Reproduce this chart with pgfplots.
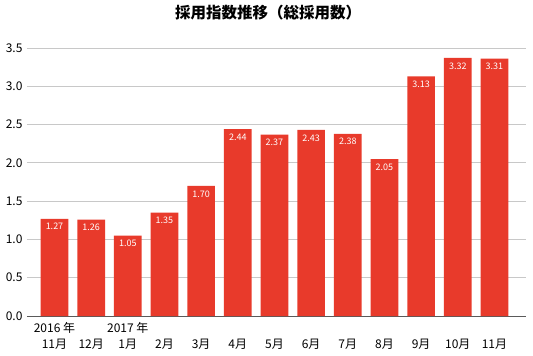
\documentclass[border=0pt]{standalone}
\usepackage{pgfplots}
\pgfplotsset{compat=1.18}
\usepackage{fontspec}
\setmainfont{Noto Sans CJK JP}
\definecolor{barred}{RGB}{232,58,43}
\definecolor{gridgray}{RGB}{200,200,200}
\definecolor{basegray}{RGB}{90,90,90}
\begin{document}
\begin{tikzpicture}
\useasboundingbox (-27bp,-40bp) rectangle (506bp,316bp);
\begin{axis}[
  at={(0,0)}, anchor=south west,
  scale only axis,
  width=499bp, height=268bp,
  xmin=-0.75, xmax=12.86,
  ymin=0, ymax=3.5,
  axis lines*=left,
  y axis line style={draw=none},
  x axis line style={draw=basegray, line width=0.8pt},
  ytick={0,0.5,...,3.5},
  ymajorgrids,
  grid style={gridgray, line width=0.9pt},
  major tick length=0pt,
  xtick={0,...,12},
  xticklabels={{\strut 2016 年\\\strut 11月},{\strut\\\strut 12月},{\strut 2017 年\\\strut 1月},{\strut\\\strut 2月},{\strut\\\strut 3月},{\strut\\\strut 4月},{\strut\\\strut 5月},{\strut\\\strut 6月},{\strut\\\strut 7月},{\strut\\\strut 8月},{\strut\\\strut 9月},{\strut\\\strut 10月},{\strut\\\strut 11月}},
  xticklabel style={align=center, font=\fontsize{12bp}{16.5bp}\selectfont, text=black, yshift=-1bp},
  yticklabel style={font=\fontsize{12bp}{14bp}\selectfont, text=black, xshift=-1bp},
  /pgf/number format/.cd, fixed, fixed zerofill, precision=1, assume math mode=true,
  /pgfplots/.cd,
  nodes near coords,
  point meta=explicit symbolic,
  every node near coord/.append style={anchor=north, yshift=-3.5bp, inner sep=1bp, text=white, font=\fontsize{9bp}{10bp}\selectfont},
]
\addplot[ybar, bar width=0.755, fill=barred, draw=none] coordinates {
 (0,1.27) [1.27]
 (1,1.26) [1.26]
 (2,1.05) [1.05]
 (3,1.35) [1.35]
 (4,1.70) [1.70]
 (5,2.44) [2.44]
 (6,2.37) [2.37]
 (7,2.43) [2.43]
 (8,2.38) [2.38]
 (9,2.05) [2.05]
 (10,3.13) [3.13]
 (11,3.37) [3.32]
 (12,3.36) [3.31]
};
\end{axis}
\node[font=\bfseries\fontsize{15.5bp}{17bp}\selectfont] at (241bp,303bp) {採用指数推移（総採用数）};
\end{tikzpicture}
\end{document}
